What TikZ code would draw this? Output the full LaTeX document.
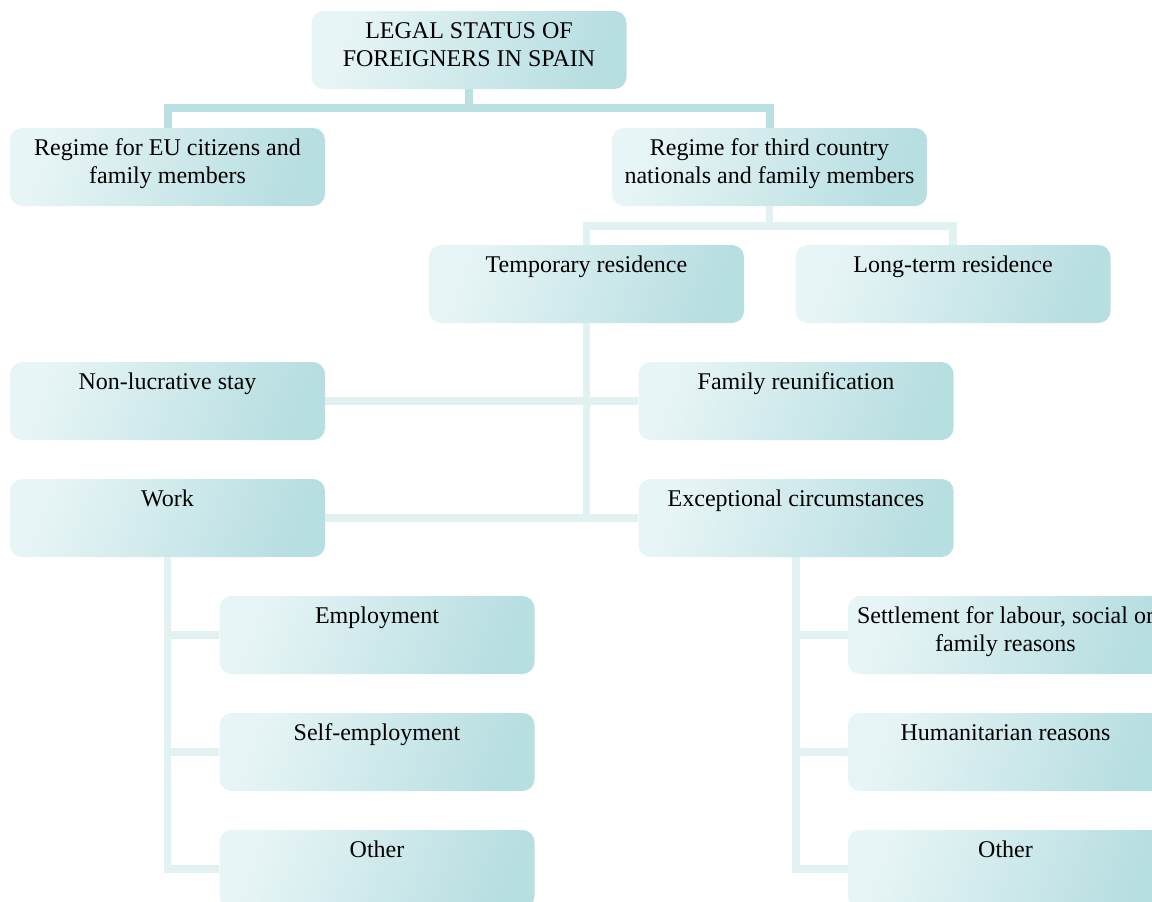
\documentclass[tikz,border=0pt]{standalone}
\usepackage{fontspec}
\setmainfont{Liberation Serif}
\usetikzlibrary{backgrounds}
\definecolor{lite}{RGB}{232,245,246}
\definecolor{dark}{RGB}{183,222,225}
\definecolor{linkA}{RGB}{186,224,227}
\definecolor{linkB}{RGB}{226,242,243}
\newcommand{\btext}[1]{\parbox[c][78pt][t]{312pt}{\centering\rule{0pt}{27pt}#1}}
\tikzset{
  box/.style={inner sep=0pt, minimum width=315pt, minimum height=78pt,
    rounded corners=12pt, left color=lite, right color=dark, shading angle=70,
    font=\fontsize{24}{28}\selectfont},
  linkdark/.style={draw=linkA, line width=8pt},
  linklite/.style={draw=linkB, line width=7.5pt},
}
\begin{document}
\begin{tikzpicture}[x=1pt,y=-1pt]
\useasboundingbox (0,0) rectangle (1152,902);
\clip (0,0) rectangle (1152,902);
\node[box] (root) at (469,50) {\btext{LEGAL STATUS OF\\FOREIGNERS IN SPAIN}};
\node[box] (eu) at (167.5,167) {\btext{Regime for EU citizens and\\family members}};
\node[box] (third) at (769.5,167) {\btext{Regime for third country\\nationals and family members}};
\node[box] (temp) at (586.5,284) {\btext{Temporary residence}};
\node[box] (long) at (953,284) {\btext{Long-term residence}};
\node[box] (nonluc) at (167.5,401) {\btext{Non-lucrative stay}};
\node[box] (family) at (796,401) {\btext{Family reunification}};
\node[box] (work) at (167.5,518) {\btext{Work}};
\node[box] (exc) at (796,518) {\btext{Exceptional circumstances}};
\node[box] (emp) at (377,635) {\btext{Employment}};
\node[box] (self) at (377,752) {\btext{Self-employment}};
\node[box] (oth1) at (377,869) {\btext{Other}};
\node[box] (settle) at (1005.5,635) {\btext{Settlement for labour, social or\\family reasons}};
\node[box] (human) at (1005.5,752) {\btext{Humanitarian reasons}};
\node[box] (oth2) at (1005.5,869) {\btext{Other}};
\begin{pgfonlayer}{background}
\draw[linkdark] (root.south) -- ++(0,19);
\draw[linkdark] (eu.north) -- ++(0,-20) -| (third.north);
\draw[linklite] (third.south) -- ++(0,20);
\draw[linklite] (temp.north) -- ++(0,-19) -| (long.north);
\draw[linklite] (temp.south) -- (temp.south |- work.east);
\draw[linklite] (nonluc.east) -- (family.west);
\draw[linklite] (work.east) -- (exc.west);
\draw[linklite] (work.south) |- (oth1.west);
\draw[linklite] (work.south |- emp.west) -- (emp.west);
\draw[linklite] (work.south |- self.west) -- (self.west);
\draw[linklite] (exc.south) |- (oth2.west);
\draw[linklite] (exc.south |- settle.west) -- (settle.west);
\draw[linklite] (exc.south |- human.west) -- (human.west);
\end{pgfonlayer}
\end{tikzpicture}
\end{document}
